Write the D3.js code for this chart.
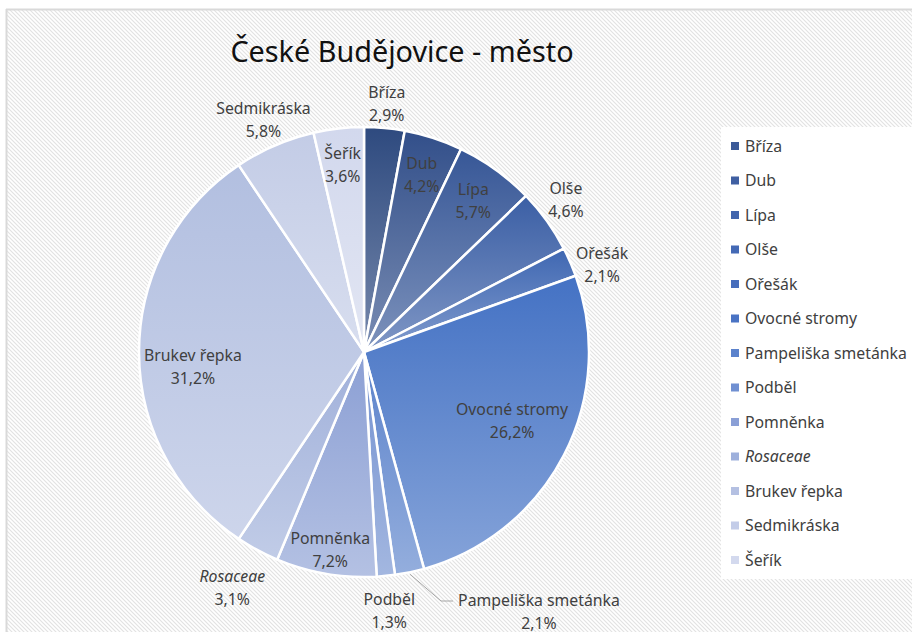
<!DOCTYPE html>
<html><head><meta charset="utf-8">
<script src="https://cdn.jsdelivr.net/npm/d3@7"></script>
<style>
html,body{margin:0;padding:0;background:#fff;}
svg{display:block;}
text{font-family:"Noto Sans","Open Sans",sans-serif;}
</style></head>
<body>
<svg id="chart" width="912" height="632"></svg>
<script>
const title = "České Budějovice - město";
const categories = ["Bříza","Dub","Lípa","Olše","Ořešák","Ovocné stromy","Pampeliška smetánka","Podběl","Pomněnka","Rosaceae","Brukev řepka","Sedmikráska","Šeřík"];
const values = [2.9,4.2,5.7,4.6,2.1,26.2,2.1,1.3,7.2,3.1,31.2,5.8,3.6];
const italicCats = ["Rosaceae"];
const baseColors = ["#2e4a7f","#324f8a","#375797","#3b5fa5","#3f67b2","#4472c4","#5b82cb","#7290d0","#8b9fd4","#a0b0da","#b2bfe0","#c3cce6","#d2d8ed"];
const legendColors = ["#3c5a98","#3f5fa2","#4265ad","#4469b5","#476dbc","#4a73c4","#5b82cc","#7090d2","#8a9fd6","#9eb0dc","#b4c0e2","#c3cce8","#d3d9ee"];
// label placement: radius as fraction of pie radius, angular nudge in degrees
const labelRadius = [1.11,0.83,0.83,1.124,1.128,0.726,null,1.155,0.89,1.198,0.763,1.125,0.84];
const labelNudge  = [0,0,0,-1.4,3.3,-2.4,0,0,0,1.0,-4.7,0,0];
const calloutOffset = {"Pampeliška smetánka":[175,259]};

const svg = d3.select("#chart");
const W=912,H=632;
const defs = svg.append("defs");
const pat = defs.append("pattern").attr("id","stripes").attr("patternUnits","userSpaceOnUse")
  .attr("width",4).attr("height",4);
pat.append("rect").attr("width",4).attr("height",4).attr("fill","#ffffff");
pat.append("path").attr("d","M-1,-1 L5,5 M-1,3 L1,5 M3,-1 L5,1").attr("stroke","#e2e2e2").attr("stroke-width",1.1);

svg.append("rect").attr("x",0).attr("y",0).attr("width",W).attr("height",H).attr("fill","#fff");
svg.append("rect").attr("x",7).attr("y",10).attr("width",W).attr("height",H).attr("fill","url(#stripes)");
svg.append("line").attr("x1",6).attr("x2",W).attr("y1",9.5).attr("y2",9.5).attr("stroke","#d9d9d9").attr("stroke-width",2);
svg.append("line").attr("x1",6.5).attr("x2",6.5).attr("y1",9).attr("y2",H).attr("stroke","#d9d9d9").attr("stroke-width",2);

svg.append("text").attr("x",402).attr("y",62).attr("text-anchor","middle")
  .attr("font-size",28.8).attr("fill","#111").text(title);

const cx=364, cy=352, R=225;
const data = categories.map((c,i)=>({cat:c,value:values[i],i}));
const pie = d3.pie().value(d=>d.value).sort(null);
const arcs = pie(data);
const arc = d3.arc().innerRadius(0).outerRadius(R);

arcs.forEach((a,i)=>{
  const g = defs.append("linearGradient").attr("id","g"+i)
    .attr("x1",0).attr("y1",0).attr("x2",0).attr("y2",1);
  g.append("stop").attr("offset","0%").attr("stop-color",baseColors[i]);
  g.append("stop").attr("offset","100%").attr("stop-color",d3.interpolateRgb(baseColors[i],"#ffffff")(0.35));
});

const gp = svg.append("g").attr("transform",`translate(${cx},${cy})`);
gp.selectAll("path").data(arcs).join("path")
  .attr("d",arc).attr("fill",(d,i)=>`url(#g${i})`)
  .attr("stroke","#fff").attr("stroke-width",2.5).attr("stroke-linejoin","round");

const fmt = v => d3.format(".1f")(v).replace(".",",")+"%";
const FS=15.8;
arcs.forEach((a,i)=>{
  const mid=(a.startAngle+a.endAngle)/2;
  let x,y;
  const off = calloutOffset[a.data.cat];
  if(off){
    x=off[0]; y=off[1];
    const sx=Math.sin(mid)*(R+2), sy=-Math.cos(mid)*(R+2);
    const ex=x-86, ey=y-10;
    gp.append("polyline").attr("points",`${sx},${sy} ${ex-12},${ey} ${ex},${ey}`)
      .attr("fill","none").attr("stroke","#a6a6a6").attr("stroke-width",1);
  } else {
    const ang = mid + labelNudge[i]*Math.PI/180;
    const r=labelRadius[i]*R;
    x=Math.sin(ang)*r; y=-Math.cos(ang)*r;
  }
  const t=gp.append("text").attr("text-anchor","middle").attr("font-size",FS).attr("fill","#404040");
  t.append("tspan").attr("x",x).attr("y",y-5.5)
    .attr("font-style",italicCats.includes(a.data.cat)?"italic":null).text(a.data.cat);
  t.append("tspan").attr("x",x).attr("y",y+17.5).text(fmt(a.data.value));
});

const lg = svg.append("g");
lg.append("rect").attr("x",721).attr("y",127).attr("width",W-721).attr("height",452).attr("fill","#fff");
const ly = d3.scalePoint().domain(categories).range([146,560]);
categories.forEach((c,i)=>{
  lg.append("rect").attr("x",731).attr("y",ly(c)-4).attr("width",8).attr("height",8).attr("fill",legendColors[i]);
  lg.append("text").attr("x",745).attr("y",ly(c)+5.5).attr("font-size",FS).attr("fill","#404040")
    .attr("font-style",italicCats.includes(c)?"italic":null).text(c);
});
</script>
</body></html>
